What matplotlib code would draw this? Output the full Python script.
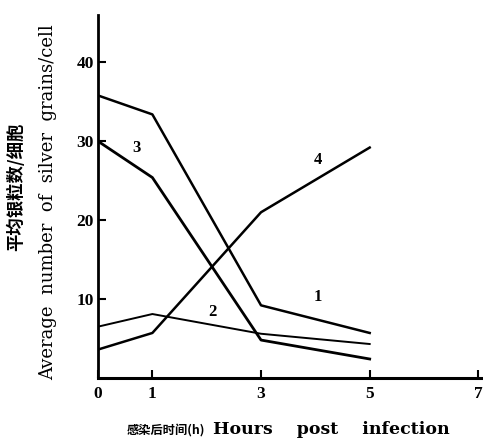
import matplotlib
matplotlib.use("Agg")
import matplotlib.pyplot as plt

hours = [0, 1, 3, 5]
series_1 = [35.8, 33.4, 9.2, 5.7]
series_2 = [6.5, 8.1, 5.6, 4.3]
series_3 = [30.0, 25.4, 4.8, 2.4]
series_4 = [3.6, 5.7, 21.0, 29.2]
series_labels = ["1", "2", "3", "4"]
label_pos = [(4.05, 10.2), (2.1, 8.4), (0.7, 29.2), (4.05, 27.6)]
x_ticks = [0, 1, 3, 5, 7]
y_ticks = [10, 20, 30, 40]

serif = ["Liberation Serif", "DejaVu Serif"]
wide_serif = ["DejaVu Serif"]
cjk = ["Noto Sans CJK SC", "DejaVu Sans"]

fig = plt.figure(figsize=(4.83, 4.41), dpi=100)
ax = fig.add_axes([0.203, 0.143, 0.793, 0.823])

ax.plot(hours, series_1, color="black", lw=1.8)
ax.plot(hours, series_2, color="black", lw=1.4)
ax.plot(hours, series_3, color="black", lw=2.0)
ax.plot(hours, series_4, color="black", lw=1.8)

for lab, (x, y) in zip(series_labels, label_pos):
    ax.text(x, y, lab, fontsize=12, fontweight="bold", family=serif, ha="center", va="center")

ax.set_xlim(0, 7.05)
ax.set_ylim(0, 46)
ax.spines["top"].set_visible(False)
ax.spines["right"].set_visible(False)
ax.spines["left"].set_linewidth(2)
ax.spines["bottom"].set_linewidth(2.2)
ax.set_xticks(x_ticks)
ax.set_xticklabels([str(t) for t in x_ticks], family=serif, fontsize=12.5, fontweight="bold")
ax.set_yticks(y_ticks)
ax.set_yticklabels([str(t) for t in y_ticks], family=serif, fontsize=12.5, fontweight="bold")
ax.tick_params(axis="both", direction="in", length=6, width=1.5, pad=6)
ax.tick_params(axis="y", pad=3)

fig.text(0.034, 0.576, "平均银粒数/细胞", rotation=90, family=cjk, fontsize=12.5,
         fontweight="bold", ha="center", va="center")
fig.text(0.099, 0.542, "Average  number  of  silver  grains/cell", rotation=90, family=wide_serif,
         fontsize=13, ha="center", va="center")
fig.text(0.262, 0.025, "感染后时间(h)", family=cjk, fontsize=8.8, fontweight="bold",
         ha="left", va="center")
fig.text(0.442, 0.025, "Hours    post    infection", family=wide_serif, fontsize=12.5, fontweight="bold",
         ha="left", va="center")

fig.savefig("out.png", dpi=100)
